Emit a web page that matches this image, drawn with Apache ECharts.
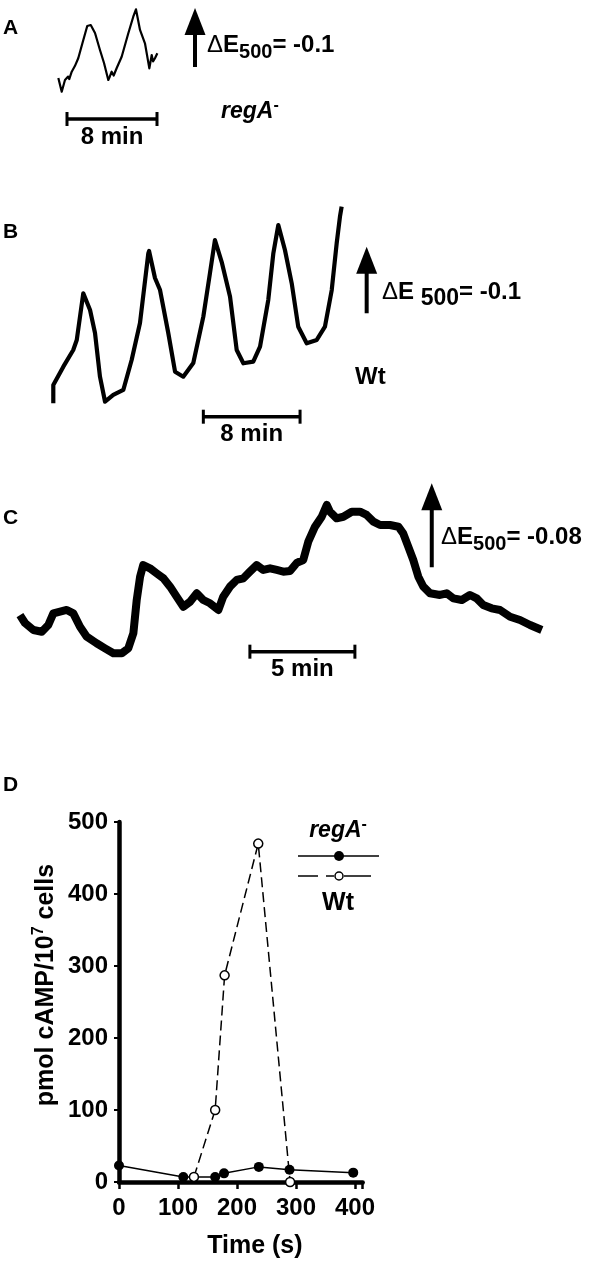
<!DOCTYPE html>
<html><head><meta charset="utf-8">
<script src="https://cdn.jsdelivr.net/npm/echarts@6/dist/echarts.min.js"></script>
<style>html,body{margin:0;padding:0;background:#fff}#c{width:600px;height:1266px}</style>
</head><body><div id="c"></div>
<script>
// ---------- DATA ----------
// Panels A-C: light-scattering traces; time in minutes, signal in milli-ΔE500 (up = decrease in E500)
const traceA = [[1.63,67.8],[1.93,44.6],[2.22,64.4],[2.5,70.2],[2.6,66.0],[2.82,78.5],[3.1,88.0],[3.40,101.2],[3.85,132.2],[4.20,155.9],[4.51,157.6],[4.89,144.1],[5.33,115.3],[5.69,93.2],[6.07,64.4],[6.20,70.0],[6.37,78.5],[6.55,72.0],[6.82,84.7],[7.26,103.9],[7.85,143.6],[8.29,171.7],[8.53,184.2],[8.89,149.2],[9.33,126.6],[9.72,84.2],[9.93,106.8],[10.05,96.0],[10.22,101.2],[10.43,109.7]];
const traceB = [[1.10,70.1],[1.10,97.6],[1.93,125.1],[2.75,150.2],[3.04,165.2],[3.58,235.3],[3.64,237.2],[4.14,210.2],[4.55,175.7],[4.96,110.1],[5.38,72.5],[6.06,82.6],[6.89,90.1],[7.58,135.1],[8.27,190.7],[8.96,295.3],[9.02,298.8],[9.51,258.3],[9.93,240.2],[10.61,175.7],[11.17,117.6],[11.85,110.1],[12.68,130.6],[13.51,200.2],[14.06,265.8],[14.47,315.3],[15.05,280.8],[15.72,230.2],[16.27,150.2],[16.82,130.2],[17.64,132.6],[18.20,155.1],[18.88,225.2],[19.30,295.3],[19.71,337.8],[20.26,300.3],[20.82,250.3],[21.36,185.1],[22.06,160.2],[22.89,165.2],[23.57,185.1],[24.13,240.2],[24.54,310.4],[24.81,350.3],[24.95,365.3]];
const traceC = [[0.95,71.4],[1.19,63.8],[1.59,57.1],[1.99,55.5],[2.30,61.9],[2.54,73.0],[2.86,74.6],[3.18,76.2],[3.49,73.0],[3.81,60.3],[4.13,50.8],[4.60,44.5],[5.00,39.7],[5.40,35.0],[5.80,35.0],[6.11,39.7],[6.35,54.0],[6.51,85.7],[6.67,107.9],[6.82,119.0],[7.14,115.9],[7.46,111.1],[7.78,106.4],[8.10,98.4],[8.41,88.9],[8.73,79.3],[9.05,84.1],[9.37,92.1],[9.68,85.7],[10.00,82.6],[10.40,76.2],[10.63,88.9],[10.95,98.4],[11.27,104.8],[11.59,106.4],[11.90,112.7],[12.22,119.0],[12.54,114.3],[12.86,115.9],[13.18,114.3],[13.49,112.7],[13.81,113.3],[14.13,121.0],[14.44,123.8],[14.68,141.2],[15.00,155.5],[15.32,165.0],[15.56,176.2],[15.71,169.8],[16.03,163.5],[16.35,165.0],[16.75,169.8],[17.14,169.8],[17.46,166.7],[17.78,160.3],[18.10,157.1],[18.57,157.1],[18.97,155.5],[19.20,149.2],[19.44,136.5],[19.68,123.8],[19.92,107.9],[20.16,98.4],[20.48,92.1],[20.95,90.5],[21.27,92.1],[21.59,87.3],[21.99,85.7],[22.38,90.5],[22.70,87.3],[23.01,81.0],[23.41,77.8],[23.81,76.2],[24.29,69.8],[24.76,66.7],[25.24,61.9],[25.80,57.1]];
// time scale bars: [start (min), length (min), level]
const scaleBars = [[2.4, 8, -1.7], [13.51, 8, 50], [11.90, 5, 36.5]];
const scaleLabels = ['8 min', '8 min', '5 min'];
// ΔE arrows: [time position, base level, ΔE size (milli-units)]
const arrows = [[13.78, 86.4, 100], [27.02, 205.3, 100], [20.56, 116.9, 80]];
const arrowLabels = ['-0.1', '-0.1', '-0.08'];
const strainLabels = ['regA', 'Wt'];
// Panel D: cAMP (pmol/10^7 cells) vs time (s)
const regA_time = [0, 109, 163, 178, 237, 289, 397];
const regA_cAMP = [23, 7, 7, 12, 21, 17, 13];
const wt_time = [127, 163, 179, 236, 290];
const wt_cAMP = [7, 100, 287, 470, 0];
const xTicksD = [0, 100, 200, 300, 400];
const yTicksD = [0, 100, 200, 300, 400, 500];

// ---------- LAYOUT ----------
const FONT = 'Arial, "Liberation Sans", Helvetica, sans-serif';
const panels = [
  {left: 40, top: 0, width: 360, height: 150, pxX: 11.25, pxY: 0.59, base: 118, lw: 2.2},
  {left: 40, top: 190, width: 360, height: 260, pxX: 12.09, pxY: 0.666, base: 450, lw: 4.2},
  {left: 0, top: 480, width: 600, height: 210, pxX: 21, pxY: 1.05, base: 690, lw: 8}
];
const traces = [traceA, traceB, traceC];

const grids = [], xAxes = [], yAxes = [], series = [];
panels.forEach((p, i) => {
  grids.push({left: p.left, top: p.top, width: p.width, height: p.height, containLabel: false});
  xAxes.push({type: 'value', gridIndex: i, min: 0, max: p.width / p.pxX, show: false});
  yAxes.push({type: 'value', gridIndex: i, max: (p.base - p.top) / p.pxY,
    min: -(p.top + p.height - p.base) / p.pxY, show: false});
  series.push({type: 'line', xAxisIndex: i, yAxisIndex: i, data: traces[i], showSymbol: false,
    symbol: 'none', lineStyle: {color: '#000', width: p.lw, join: 'round'}, silent: true, animation: false});
  const label = scaleLabels[i];
  series.push({type: 'custom', xAxisIndex: i, yAxisIndex: i, animation: false, silent: true,
    data: [[scaleBars[i][0], scaleBars[i][0] + scaleBars[i][1], scaleBars[i][2]]],
    encode: {x: [0, 1], y: 2},
    renderItem: function (params, api) {
      const a = api.coord([api.value(0), api.value(2)]);
      const b = api.coord([api.value(1), api.value(2)]);
      const s = {stroke: '#000', lineWidth: 3.5};
      return {type: 'group', children: [
        {type: 'line', shape: {x1: a[0], y1: a[1], x2: b[0], y2: b[1]}, style: s},
        {type: 'line', shape: {x1: a[0], y1: a[1] - 7, x2: a[0], y2: a[1] + 7}, style: {stroke: '#000', lineWidth: 3}},
        {type: 'line', shape: {x1: b[0], y1: b[1] - 7, x2: b[0], y2: b[1] + 7}, style: {stroke: '#000', lineWidth: 3}},
        {type: 'text', style: {text: label, x: (a[0] + b[0]) / 2, y: a[1] + 18, align: 'center',
          verticalAlign: 'middle', fontSize: 24, fontWeight: 'bold', fontFamily: FONT, fill: '#000'}}
      ]};
    }});
  series.push({type: 'custom', xAxisIndex: i, yAxisIndex: i, animation: false, silent: true,
    data: [[arrows[i][0], arrows[i][1], arrows[i][1] + arrows[i][2]]],
    encode: {x: 0, y: [1, 2]},
    renderItem: function (params, api) {
      const p0 = api.coord([api.value(0), api.value(1)]);
      const p1 = api.coord([api.value(0), api.value(2)]);
      const hw = 10.5, hl = 27;
      return {type: 'group', children: [
        {type: 'line', shape: {x1: p0[0], y1: p0[1], x2: p1[0], y2: p1[1] + hl - 2}, style: {stroke: '#000', lineWidth: 4}},
        {type: 'polygon', shape: {points: [[p1[0], p1[1]], [p1[0] - hw, p1[1] + hl], [p1[0] + hw, p1[1] + hl]]}, style: {fill: '#000'}}
      ]};
    }});
});

// Panel D grid
const dIdx = 3;
grids.push({left: 119, top: 822, width: 413 * 0.59, height: 360, containLabel: false});
xAxes.push({type: 'value', gridIndex: dIdx, min: 0, max: 413, interval: 100,
  axisLine: {show: true, onZero: false, lineStyle: {color: '#000', width: 4.5}},
  axisTick: {show: true, length: 7, lineStyle: {color: '#000', width: 2.5}},
  splitLine: {show: false},
  axisLabel: {margin: 14, color: '#000', fontSize: 24, fontWeight: 'bold', fontFamily: FONT,
    formatter: v => (xTicksD.indexOf(v) >= 0 ? String(v) : '')},
  name: 'Time (s)', nameLocation: 'middle', nameGap: 52,
  nameTextStyle: {color: '#000', fontSize: 25, fontWeight: 'bold', fontFamily: FONT, padding: [0, 0, 0, 28]}
});
yAxes.push({type: 'value', gridIndex: dIdx, min: 0, max: 500, interval: 100,
  axisLine: {show: true, lineStyle: {color: '#000', width: 4.5}},
  axisTick: {show: true, length: 5, lineStyle: {color: '#000', width: 2}},
  splitLine: {show: false},
  axisLabel: {margin: 11, color: '#000', fontSize: 24, fontWeight: 'bold', fontFamily: FONT,
    formatter: v => (yTicksD.indexOf(v) >= 0 ? String(v) : '')},
  name: 'pmol cAMP/10{sup|7} cells', nameLocation: 'middle', nameGap: 58, nameRotate: 90,
  nameTextStyle: {color: '#000', fontSize: 25, fontWeight: 'bold', fontFamily: FONT, padding: [0, 0, 0, 34],
    rich: {sup: {fontSize: 16, fontWeight: 'bold', fontFamily: FONT, color: '#000', padding: [0, 0, 14, 0]}}}
});
series.push({type: 'line', name: 'regA-', xAxisIndex: dIdx, yAxisIndex: dIdx,
  data: regA_time.map((t, i) => [t, regA_cAMP[i]]), symbol: 'circle', symbolSize: 10,
  itemStyle: {color: '#000'}, lineStyle: {color: '#000', width: 1.5}, z: 3, animation: false});
series.push({type: 'line', name: 'Wt', xAxisIndex: dIdx, yAxisIndex: dIdx,
  data: wt_time.map((t, i) => [t, wt_cAMP[i]]), symbol: 'circle', symbolSize: 9,
  itemStyle: {color: '#fff', borderColor: '#000', borderWidth: 1.5},
  lineStyle: {color: '#000', width: 1.5, type: [10, 5]}, z: 4, animation: false});

// ---------- ANNOTATIONS ----------
const txt = (x, y, text, extra) => Object.assign({type: 'text', x: x, y: y, silent: true,
  style: Object.assign({text: text, fill: '#000', fontSize: 24, fontWeight: 'bold', fontFamily: FONT,
    align: 'left', verticalAlign: 'middle'}, extra || {})});
const dRich = (mainSize, subSize, pad) => ({
  d: {fontSize: mainSize, fontWeight: 'normal', fontFamily: FONT, fill: '#000'},
  s: {fontSize: subSize, fontWeight: 'bold', fontFamily: FONT, fill: '#000', padding: [pad, 0, 0, 0]}
});
const graphic = [
  txt(3, 28, 'A', {fontSize: 21}),
  txt(3, 232, 'B', {fontSize: 21}),
  txt(3, 518, 'C', {fontSize: 21}),
  txt(3, 785, 'D', {fontSize: 21}),
  txt(207, 45, '{d|Δ}E{s|500}= ' + arrowLabels[0], {rich: dRich(24, 20, 14)}),
  txt(382, 292, '{d|Δ}E {s|500}= ' + arrowLabels[1], {rich: dRich(24, 23, 14)}),
  txt(441, 537, '{d|Δ}E{s|500}= ' + arrowLabels[2], {rich: dRich(24, 20, 14)}),
  txt(221, 112, '{i|' + strainLabels[0] + '}{sup|-}', {rich: {
    i: {fontSize: 23, fontStyle: 'italic', fontWeight: 'bold', fontFamily: FONT, fill: '#000'},
    sup: {fontSize: 16, fontWeight: 'bold', fontFamily: FONT, fill: '#000', padding: [0, 0, 12, 0]}}}),
  txt(355, 377, strainLabels[1]),
  // Panel D key
  txt(338, 831, '{i|' + strainLabels[0] + '}{sup|-}', {align: 'center', rich: {
    i: {fontSize: 23, fontStyle: 'italic', fontWeight: 'bold', fontFamily: FONT, fill: '#000'},
    sup: {fontSize: 16, fontWeight: 'bold', fontFamily: FONT, fill: '#000', padding: [0, 0, 12, 0]}}}),
  {type: 'line', shape: {x1: 298, y1: 856, x2: 379, y2: 856}, style: {stroke: '#000', lineWidth: 1.5}, silent: true},
  {type: 'circle', shape: {cx: 339, cy: 856, r: 5}, style: {fill: '#000'}, silent: true},
  {type: 'line', shape: {x1: 298, y1: 876, x2: 318, y2: 876}, style: {stroke: '#000', lineWidth: 1.5}, silent: true},
  {type: 'line', shape: {x1: 326, y1: 876, x2: 334, y2: 876}, style: {stroke: '#000', lineWidth: 1.5}, silent: true},
  {type: 'line', shape: {x1: 344, y1: 876, x2: 371, y2: 876}, style: {stroke: '#000', lineWidth: 1.5}, silent: true},
  {type: 'circle', shape: {cx: 339, cy: 876, r: 4}, style: {fill: '#fff', stroke: '#000', lineWidth: 1.5}, silent: true},
  txt(338, 903, strainLabels[1], {align: 'center', fontSize: 25})
];

const chart = echarts.init(document.getElementById('c'), null, {renderer: 'canvas'});
chart.setOption({
  backgroundColor: '#fff', animation: false,
  grid: grids, xAxis: xAxes, yAxis: yAxes, series: series, graphic: graphic
});
</script></body></html>
